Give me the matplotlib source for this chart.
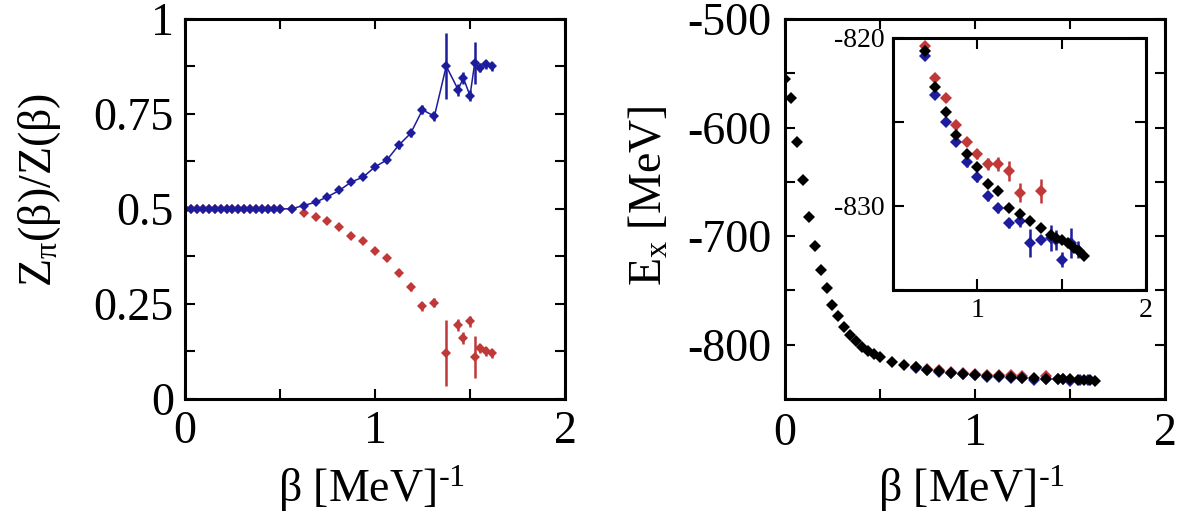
import matplotlib
matplotlib.use('Agg')
import matplotlib.pyplot as plt
from matplotlib.ticker import FixedLocator, FormatStrFormatter

plt.rcParams['font.family'] = ['Liberation Serif', 'DejaVu Serif']
plt.rcParams['mathtext.fontset'] = 'custom'
plt.rcParams['mathtext.rm'] = 'Liberation Serif'
plt.rcParams['mathtext.it'] = 'Liberation Serif:italic'
plt.rcParams['mathtext.default'] = 'rm'
plt.rcParams['axes.unicode_minus'] = False

# left panel: Z_pi(beta)/Z(beta)
beta_z = [0.0, 0.03125, 0.0625, 0.09375, 0.125, 0.15625, 0.1875, 0.21875, 0.25,
          0.28125, 0.3125, 0.34375, 0.375, 0.40625, 0.4375, 0.46875, 0.5, 0.5625,
          0.625, 0.6875, 0.75, 0.8125, 0.875, 0.9375, 1.0, 1.0625, 1.125, 1.1875,
          1.25, 1.3125, 1.375, 1.4375, 1.465, 1.5, 1.525, 1.555, 1.585, 1.615]
z_blue = [0.5, 0.5, 0.5, 0.5, 0.5, 0.5, 0.5, 0.5, 0.5, 0.5, 0.5, 0.5, 0.5, 0.5, 0.5,
          0.5, 0.5, 0.501, 0.509, 0.518, 0.532, 0.549, 0.571, 0.584, 0.611, 0.629,
          0.668, 0.699, 0.761, 0.744, 0.876, 0.814, 0.845, 0.798, 0.885, 0.872,
          0.881, 0.876]
z_blue_err = [0, 0, 0, 0, 0, 0, 0, 0, 0, 0, 0, 0, 0, 0, 0, 0, 0, 0.002, 0.003,
              0.004, 0.005, 0.005, 0.006, 0.006, 0.007, 0.008, 0.009, 0.01, 0.012,
              0.012, 0.087, 0.016, 0.016, 0.014, 0.055, 0.012, 0.012, 0.012]
z_red = [0.5, 0.5, 0.5, 0.5, 0.5, 0.5, 0.5, 0.5, 0.5, 0.5, 0.5, 0.5, 0.5, 0.5, 0.5,
         0.5, 0.5, 0.499, 0.489, 0.480, 0.468, 0.452, 0.430, 0.416, 0.390, 0.371,
         0.332, 0.294, 0.244, 0.253, 0.120, 0.195, 0.160, 0.204, 0.111, 0.133,
         0.125, 0.120]
z_red_err = z_blue_err

# right panel: E_x(beta)
beta_e = [0.0, 0.03125, 0.0625, 0.09375, 0.125, 0.15625, 0.1875, 0.21875, 0.25,
          0.28125, 0.3125, 0.34375, 0.375, 0.40625, 0.4375, 0.46875, 0.5, 0.5625,
          0.625, 0.6875, 0.75, 0.8125, 0.875, 0.9375, 1.0, 1.0625, 1.125, 1.1875,
          1.25, 1.3125, 1.375, 1.4375, 1.465, 1.5, 1.54, 1.575, 1.605, 1.63]
e_black = [-555, -572.5, -613, -648, -682.6, -709, -731, -748, -763.6, -774,
           -783.5, -791, -797, -802.5, -805.5, -808.5, -811.6, -816, -819,
           -820.8, -822.9, -824.4, -825.8, -826.9, -827.7, -828.7, -829.1, -830.1,
           -830.5, -830.9, -831.3, -831.7, -831.9, -832.0, -832.2, -832.5, -832.7,
           -833.0]

beta_r = [0.6875, 0.75, 0.8125, 0.875, 0.9375, 1.0, 1.0625, 1.125, 1.1875, 1.25, 1.375]
e_red = [-820.5, -822.4, -823.6, -825.2, -826.2, -826.9, -827.5, -827.5, -827.9,
         -829.2, -829.1]
e_red_err = [0.2, 0.2, 0.2, 0.25, 0.25, 0.3, 0.35, 0.4, 0.6, 0.55, 0.7]

beta_b = [0.6875, 0.75, 0.8125, 0.875, 0.9375, 1.0, 1.0625, 1.125, 1.1875, 1.25,
          1.3125, 1.375, 1.4375, 1.465, 1.5, 1.555, 1.595]
e_blue = [-821.1, -823.4, -825.0, -826.2, -827.4, -828.3, -829.4, -830.1, -831.0,
          -830.9, -832.2, -832.0, -831.9, -832.0, -833.2, -832.2, -832.6]
e_blue_err = [0.2, 0.2, 0.2, 0.2, 0.25, 0.25, 0.3, 0.3, 0.3, 0.35, 0.83, 0.25,
              0.75, 0.6, 0.45, 0.9, 0.5]

BLUE = '#1c1c9c'
RED = '#c03838'
XLABEL = r'β [MeV]$^{\text{-1}}$'


def style(ax, size, length, pad):
    ax.tick_params(which='both', direction='in', top=True, right=True,
                   length=length, width=1.5, labelsize=size, pad=pad)
    for s in ax.spines.values():
        s.set_linewidth(2.2)


def pts(ax, x, y, err, color, ms, cap=4):
    ax.errorbar(x, y, yerr=err, fmt='D', color=color, ms=ms, capsize=cap,
                elinewidth=1.8, capthick=1.8, mew=0)


fig = plt.figure(figsize=(11.85, 5.32), dpi=100)
ax1 = fig.add_axes([0.1561, 0.25, 0.3207, 0.7143])
ax2 = fig.add_axes([0.6624, 0.25, 0.3207, 0.7143])
ax3 = fig.add_axes([0.7536, 0.4549, 0.2135, 0.4737])

# left
pts(ax1, beta_z, z_red, z_red_err, RED, 5.5)
ax1.plot(beta_z, z_blue, '-', color=BLUE, lw=1.1)
pts(ax1, beta_z, z_blue, z_blue_err, BLUE, 5.5)
ax1.set_xlim(0, 2)
ax1.set_ylim(0, 1)
ax1.xaxis.set_major_locator(FixedLocator([0, 1, 2]))
ax1.xaxis.set_minor_locator(FixedLocator([0.5, 1.5]))
ax1.yaxis.set_major_locator(FixedLocator([0, 0.25, 0.5, 0.75, 1]))
ax1.yaxis.set_minor_locator(FixedLocator([0.125, 0.375, 0.625, 0.875]))
ax1.yaxis.set_major_formatter(FormatStrFormatter('%g'))
style(ax1, 33, 7, 8)
ax1.set_ylabel(r'Z$_{\mathrm{\pi}}$(β)/Z(β)', fontsize=33)
ax1.yaxis.set_label_coords(-0.32, 0.55)
ax1.set_xlabel(XLABEL, fontsize=33)
ax1.xaxis.set_label_coords(0.49, -0.17)

# right
pts(ax2, beta_r, e_red, e_red_err, RED, 6)
pts(ax2, beta_b, e_blue, e_blue_err, BLUE, 6)
pts(ax2, beta_e, e_black, [0.2] * len(beta_e), 'black', 6, cap=3.5)
ax2.set_xlim(0, 2)
ax2.set_ylim(-850, -500)
ax2.xaxis.set_major_locator(FixedLocator([0, 1, 2]))
ax2.xaxis.set_minor_locator(FixedLocator([0.5, 1.5]))
ax2.yaxis.set_major_locator(FixedLocator([-800, -700, -600, -500]))
ax2.yaxis.set_minor_locator(FixedLocator([-850, -750, -650, -550]))
style(ax2, 33, 7, 10)
ax2.set_ylabel(r'E$_{\mathrm{x}}$ [MeV]', fontsize=33)
ax2.yaxis.set_label_coords(-0.297, 0.534)
ax2.set_xlabel(XLABEL, fontsize=33)
ax2.xaxis.set_label_coords(0.49, -0.17)

# inset
pts(ax3, beta_r, e_red, e_red_err, RED, 6)
pts(ax3, beta_b, e_blue, e_blue_err, BLUE, 6)
pts(ax3, beta_e[19:], e_black[19:], [0.15] * len(beta_e[19:]), 'black', 6)
ax3.set_xlim(0.5, 2)
ax3.set_ylim(-835, -820)
ax3.xaxis.set_major_locator(FixedLocator([1, 2]))
ax3.xaxis.set_minor_locator(FixedLocator([0.5, 1.5]))
ax3.yaxis.set_major_locator(FixedLocator([-830, -820]))
ax3.yaxis.set_minor_locator(FixedLocator([-835, -825]))
style(ax3, 20, 8, 6)
ax3.set_facecolor('white')

fig.savefig('out.png', dpi=100)
